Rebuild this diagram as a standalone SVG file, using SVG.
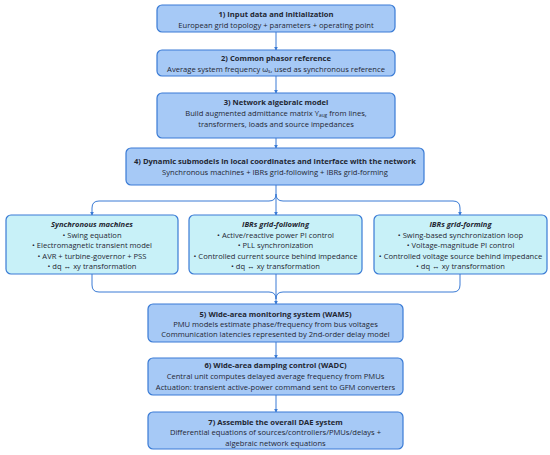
<svg xmlns="http://www.w3.org/2000/svg" width="550" height="455" viewBox="0 0 550 455">
<defs>
<style>
.main{fill:#a6c9f6;stroke:#3a7bd5;stroke-width:1.2}
.sub{fill:#c8f1f8;stroke:#3a7bd5;stroke-width:1.2}
text{font-family:"Open Sans","Noto Sans",sans-serif;fill:#1f2733;text-anchor:middle}
.t{font-weight:bold;font-size:7.6px}
.b{font-size:7.6px}
.ti{font-weight:bold;font-style:italic;font-size:7.6px}
.c{fill:none;stroke:#3a7bd5;stroke-width:1}
</style>
<marker id="a" viewBox="0 0 6 6" refX="5" refY="3" markerWidth="4" markerHeight="4" orient="auto"><path d="M0,0 L6,3 L0,6 z" fill="#3a7bd5"/></marker>
</defs>
<rect width="550" height="455" fill="#ffffff"/>
<g id="connectors">
<path class="c" d="M276,32 V50" marker-end="url(#a)"/>
<path class="c" d="M276,76 V93" marker-end="url(#a)"/>
<path class="c" d="M276,138 V148" marker-end="url(#a)"/>
<path class="c" d="M276,185 V215" marker-end="url(#a)"/>
<path class="c" d="M276,194 Q276,201 269,201 H99 Q92,201 92,208 V215" marker-end="url(#a)"/>
<path class="c" d="M276,194 Q276,201 283,201 H453 Q460,201 460,208 V215" marker-end="url(#a)"/>
<path class="c" d="M276,274 V304" marker-end="url(#a)"/>
<path class="c" d="M92,274 V285 Q92,292 99,292 H269 Q276,292 276,299"/>
<path class="c" d="M460,274 V285 Q460,292 453,292 H283 Q276,292 276,299"/>
<path class="c" d="M276,342 V358" marker-end="url(#a)"/>
<path class="c" d="M276,395 V412" marker-end="url(#a)"/>
</g>
<g id="n1">
<rect class="main" x="157" y="5" width="238" height="27" rx="5"/>
<text class="t" x="276" y="17">1) Input data and initialization</text>
<text class="b" x="276" y="27.5">European grid topology + parameters + operating point</text>
</g>
<g id="n2">
<rect class="main" x="157" y="50" width="238" height="26" rx="5"/>
<text class="t" x="276" y="61">2) Common phasor reference</text>
<text class="b" x="276" y="71.5">Average system frequency ω<tspan font-size="4.8" dy="1.5">s</tspan><tspan dy="-1.5">, used as synchronous reference</tspan></text>
</g>
<g id="n3">
<rect class="main" x="157" y="93" width="238" height="45" rx="5"/>
<text class="t" x="276" y="104.5">3) Network algebraic model</text>
<text class="b" x="276" y="115.5">Build augmented admittance matrix Y<tspan font-size="4.8" dy="1.5">aug</tspan><tspan dy="-1.5"> from lines,</tspan></text>
<text class="b" x="276" y="127">transformers, loads and source impedances</text>
</g>
<g id="n4">
<rect class="main" x="126" y="148" width="298" height="37" rx="5"/>
<text class="t" x="275" y="164">4) Dynamic submodels in local coordinates and interface with the network</text>
<text class="b" x="275" y="175">Synchronous machines + IBRs grid-following + IBRs grid-forming</text>
</g>
<g id="n4a">
<rect class="sub" x="6" y="215" width="172" height="59" rx="5"/>
<text class="ti" x="92" y="226.5">Synchronous machines</text>
<text class="b" x="92" y="237.5">• Swing equation</text>
<text class="b" x="92" y="248">• Electromagnetic transient model</text>
<text class="b" x="92" y="258.5">• AVR + turbine-governor + PSS</text>
<text class="b" x="92" y="269">• dq ↔ xy transformation</text>
</g>
<g id="n4b">
<rect class="sub" x="189" y="215" width="173" height="59" rx="5"/>
<text class="ti" x="275.5" y="226.5">IBRs grid-following</text>
<text class="b" x="275.5" y="237.5">• Active/reactive power PI control</text>
<text class="b" x="275.5" y="248">• PLL synchronization</text>
<text class="b" x="275.5" y="258.5">• Controlled current source behind impedance</text>
<text class="b" x="275.5" y="269">• dq ↔ xy transformation</text>
</g>
<g id="n4c">
<rect class="sub" x="374" y="215" width="173" height="59" rx="5"/>
<text class="ti" x="460.5" y="226.5">IBRs grid-forming</text>
<text class="b" x="460.5" y="237.5">• Swing-based synchronization loop</text>
<text class="b" x="460.5" y="248">• Voltage-magnitude PI control</text>
<text class="b" x="460.5" y="258.5">• Controlled voltage source behind impedance</text>
<text class="b" x="460.5" y="269">• dq ↔ xy transformation</text>
</g>
<g id="n5">
<rect class="main" x="148" y="304" width="255" height="38" rx="5"/>
<text class="t" x="275.5" y="316.5">5) Wide-area monitoring system (WAMS)</text>
<text class="b" x="275.5" y="327">PMU models estimate phase/frequency from bus voltages</text>
<text class="b" x="275.5" y="337">Communication latencies represented by 2nd-order delay model</text>
</g>
<g id="n6">
<rect class="main" x="148" y="358" width="255" height="37" rx="5"/>
<text class="t" x="275.5" y="367.5">6) Wide-area damping control (WADC)</text>
<text class="b" x="275.5" y="379">Central unit computes delayed average frequency from PMUs</text>
<text class="b" x="275.5" y="390">Actuation: transient active-power command sent to GFM converters</text>
</g>
<g id="n7">
<rect class="main" x="148" y="412" width="255" height="37" rx="5"/>
<text class="t" x="275.5" y="424.5">7) Assemble the overall DAE system</text>
<text class="b" x="275.5" y="435">Differential equations of sources/controllers/PMUs/delays +</text>
<text class="b" x="275.5" y="445.5">algebraic network equations</text>
</g>
</svg>
